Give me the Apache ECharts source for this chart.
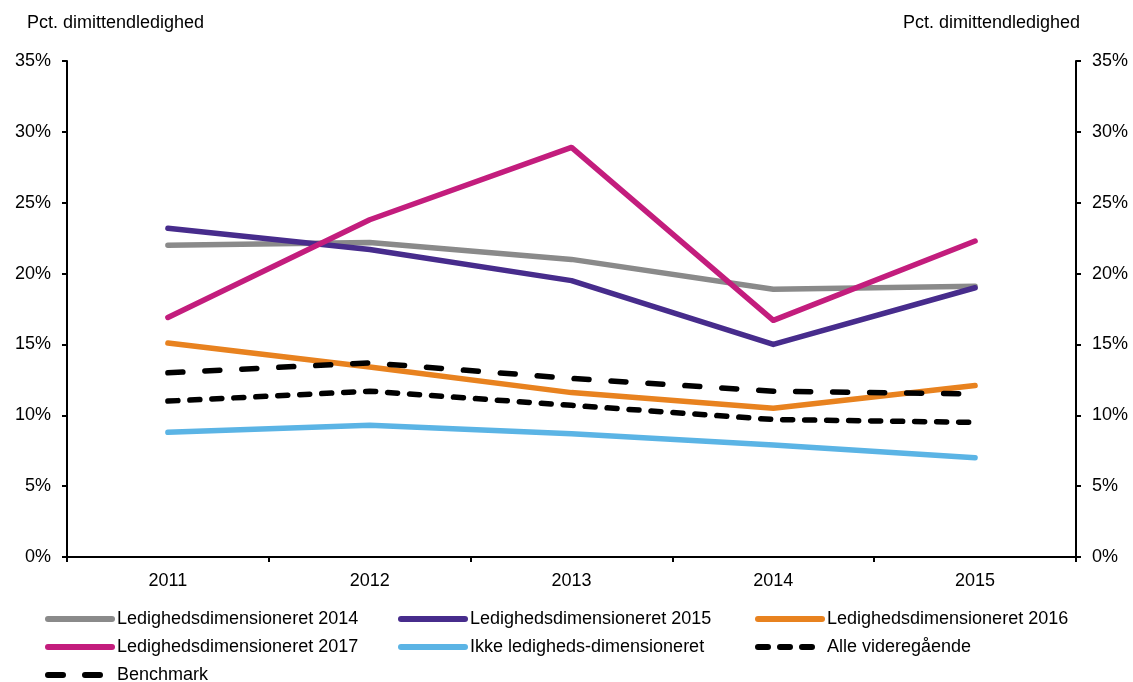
<!DOCTYPE html>
<html>
<head>
<meta charset="utf-8">
<script src="https://cdn.jsdelivr.net/npm/echarts@6/dist/echarts.min.js"></script>
<style>
  html, body { margin: 0; padding: 0; background: #fff; }
  #chart { width: 1133px; height: 682px; }
</style>
</head>
<body>
<div id="chart"></div>
<script>
  // data (pct.)
  const years = ['2011', '2012', '2013', '2014', '2015'];
  const led2014 = [22.0, 22.2, 21.0, 18.9, 19.1];
  const led2015 = [23.2, 21.7, 19.5, 15.0, 19.0];
  const led2016 = [15.1, 13.4, 11.6, 10.5, 12.1];
  const led2017 = [16.9, 23.8, 28.9, 16.7, 22.3];
  const ikkeLed = [8.8, 9.3, 8.7, 7.9, 7.0];
  const alleVid = [11.0, 11.7, 10.7, 9.7, 9.5];
  const benchmark = [13.0, 13.7, 12.6, 11.7, 11.5];
  const yTicks = [0, 5, 10, 15, 20, 25, 30, 35];

  const font = 'Arial, "Liberation Sans", sans-serif';
  const fs = 18;
  const chart = echarts.init(document.getElementById('chart'));

  function line(name, data, color, dash) {
    return {
      name: name,
      type: 'line',
      data: data,
      symbol: 'none',
      color: color,
      lineStyle: { width: 5.5, color: color, type: dash || 'solid', cap: 'round', join: 'round' },
      z: 3
    };
  }

  function yAxis(pos) {
    return {
      type: 'value',
      position: pos,
      min: yTicks[0],
      max: yTicks[yTicks.length - 1],
      interval: 5,
      axisLine: { show: true, lineStyle: { color: '#000', width: 2 } },
      axisTick: { show: true, length: 5, lineStyle: { color: '#000', width: 2 } },
      splitLine: { show: false },
      axisLabel: { color: '#000', fontSize: fs, fontFamily: font, margin: 16,
        formatter: v => v + '%' }
    };
  }

  const legendBase = {
    orient: 'vertical',
    top: 605,
    height: 100,
    itemWidth: 64,
    itemHeight: 14,
    itemGap: 10,
    itemStyle: { opacity: 0 },
    lineStyle: { width: 6, cap: 'round' },
    textStyle: { color: '#000', fontSize: fs, fontFamily: font, lineHeight: 18 }
  };

  chart.setOption({
    animation: false,
    grid: { left: 67, right: 57, top: 61, bottom: 125, containLabel: false },
    xAxis: {
      type: 'category',
      data: years,
      boundaryGap: true,
      axisLine: { lineStyle: { color: '#000', width: 2 } },
      axisTick: { show: true, length: 5, lineStyle: { color: '#000', width: 2 } },
      axisLabel: { color: '#000', fontSize: fs, fontFamily: font, margin: 15 }
    },
    yAxis: [yAxis('left'), yAxis('right')],
    legend: [
      Object.assign({ left: 40, data: ['Ledighedsdimensioneret 2014', 'Ledighedsdimensioneret 2017', 'Benchmark'] }, legendBase),
      Object.assign({ left: 393, data: ['Ledighedsdimensioneret 2015', 'Ikke ledigheds-dimensioneret'] }, legendBase),
      Object.assign({ left: 750, data: ['Ledighedsdimensioneret 2016', 'Alle videregående'] }, legendBase)
    ],
    graphic: [
      { type: 'text', left: 27, top: 14, style: { text: 'Pct. dimittendledighed', fontSize: fs, fontFamily: font, fill: '#000' } },
      { type: 'text', right: 53, top: 14, style: { text: 'Pct. dimittendledighed', fontSize: fs, fontFamily: font, fill: '#000' } }
    ],
    series: [
      line('Ledighedsdimensioneret 2014', led2014, '#8a8a8a'),
      line('Ledighedsdimensioneret 2015', led2015, '#472c8c'),
      line('Ledighedsdimensioneret 2016', led2016, '#e8821f'),
      line('Ledighedsdimensioneret 2017', led2017, '#c31d7d'),
      line('Ikke ledigheds-dimensioneret', ikkeLed, '#5bb4e5'),
      line('Alle videregående', alleVid, '#000', [10, 12]),
      line('Benchmark', benchmark, '#000', [15, 22])
    ]
  });
</script>
</body>
</html>
